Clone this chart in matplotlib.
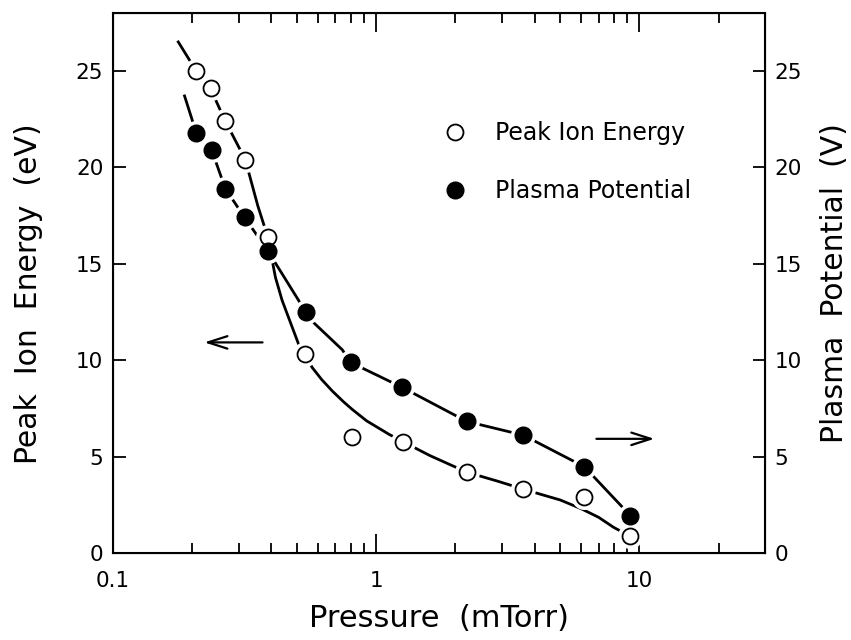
import matplotlib
matplotlib.use("Agg")
import matplotlib.pyplot as plt

# measured points (pressure in mTorr)
ion_p = [0.207, 0.236, 0.267, 0.318, 0.387, 0.536, 0.81, 1.26, 2.21, 3.62, 6.18, 9.2]
ion_e = [25.0, 24.1, 22.4, 20.4, 16.4, 10.3, 6.0, 5.78, 4.19, 3.31, 2.92, 0.88]
pot_p = [0.207, 0.237, 0.267, 0.316, 0.387, 0.54, 0.80, 1.25, 2.21, 3.62, 6.18, 9.24]
pot_v = [21.8, 20.9, 18.9, 17.4, 15.68, 12.5, 9.88, 8.6, 6.82, 6.11, 4.47, 1.94]

# hand-drawn guide curves
ion_fit_p = [0.177, 0.207, 0.236, 0.267, 0.318, 0.355, 0.387, 0.414, 0.439, 0.508, 0.536,
             0.571, 0.62, 0.681, 0.75, 0.81, 0.92, 1.12, 1.26, 1.6, 2.21, 2.9, 3.62,
             4.2, 5.0, 6.0, 7.0, 7.98, 9.2]
ion_fit_e = [26.5, 25.0, 24.0, 22.4, 20.4, 18.0, 16.4, 14.3, 13.1, 10.8, 10.3,
             9.62, 9.0, 8.4, 7.85, 7.45, 6.85, 6.15, 5.78, 5.05, 4.19, 3.72, 3.31,
             3.05, 2.75, 2.3, 1.85, 1.33, 0.88]
pot_fit_p = [0.187, 0.207, 0.237, 0.267, 0.316, 0.387, 0.54, 0.58, 0.743, 0.80,
             1.25, 2.21, 3.62, 6.18, 9.24]
pot_fit_v = [23.7, 21.8, 20.9, 18.9, 17.4, 15.68, 12.5, 11.93, 10.54, 9.88,
             8.6, 6.82, 6.11, 4.47, 1.94]

fig = plt.figure(figsize=(8.51, 6.40), dpi=100)
ax = fig.add_axes([113 / 851, 1 - 553 / 640, 652 / 851, 540 / 640])

ax.plot(ion_fit_p, ion_fit_e, color="black", lw=2, zorder=2)
ax.plot(pot_fit_p, pot_fit_v, color="black", lw=2, zorder=2)
# white halo around every point breaks the curves like in the original
ax.plot(ion_p + pot_p, ion_e + pot_v, ls="none", marker="o", ms=17,
        mfc="white", mec="white", zorder=3)
h1, = ax.plot(ion_p, ion_e, ls="none", marker="o", ms=11.5, mfc="white",
              mec="black", mew=1.3, zorder=4, label="Peak Ion Energy")
h2, = ax.plot(pot_p, pot_v, ls="none", marker="o", ms=12, mfc="black",
              mec="black", zorder=4, label="Plasma Potential")

ax.set_xscale("log")
ax.set_xlim(0.1, 30)
ax.set_ylim(0, 28)
ax.set_xticks([0.1, 1, 10])
ax.set_xticklabels(["0.1", "1", "10"])
ax.set_yticks([0, 5, 10, 15, 20, 25])
ax.tick_params(axis="x", which="major", direction="in", length=14, width=1.3,
               top=True, labelsize=15.5, pad=13)
ax.tick_params(axis="x", which="minor", direction="in", length=7, width=1.3, top=True)
ax.tick_params(axis="y", direction="in", length=9, width=1.3, labelsize=15.5, pad=7)
for s in ax.spines.values():
    s.set_linewidth(1.5)

ax2 = ax.twinx()
ax2.set_ylim(0, 28)
ax2.set_yticks([0, 5, 10, 15, 20, 25])
ax2.tick_params(axis="y", direction="in", length=9, width=1.3, labelsize=15.5, pad=7)
ax2.set_ylabel("Plasma  Potential  (V)", fontsize=21.5, labelpad=13)

ax.set_xlabel("Pressure  (mTorr)", fontsize=22, labelpad=9)
ax.set_ylabel("Peak  Ion  Energy  (eV)", fontsize=21.5)
ax.yaxis.set_label_coords(-0.108, 0.48)

arrow = dict(arrowstyle="->,head_length=1.4,head_width=0.45", lw=1.6, color="black")
ax.annotate("", xy=(0.217, 10.92), xytext=(0.379, 10.92), arrowprops=arrow)
ax.annotate("", xy=(11.68, 5.92), xytext=(6.70, 5.92), arrowprops=arrow)

ax.legend(handles=[h1, h2], loc="upper left", bbox_to_anchor=(0.5064, 0.800),
          frameon=False, fontsize=17, handlelength=1, handletextpad=1.2,
          labelspacing=1.43, borderpad=0, borderaxespad=0)

fig.savefig("out.png", dpi=100)
